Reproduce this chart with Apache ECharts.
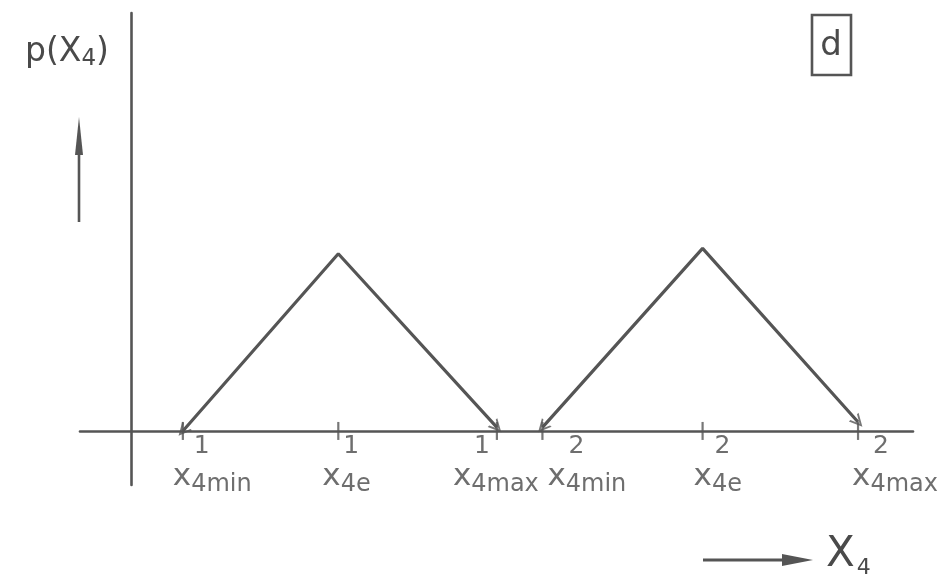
<!DOCTYPE html>
<html><head><meta charset="utf-8">
<script src="https://cdn.jsdelivr.net/npm/echarts@6/dist/echarts.min.js"></script>
<style>html,body{margin:0;padding:0;background:#fff}#c{width:945px;height:585px}</style>
</head><body><div id="c"></div>
<script>
// ---- data ----
const tickValues = [0.33, 1.32, 2.33, 2.62, 3.64, 4.63];
const tickBase = ['x', 'x', 'x', 'x', 'x', 'x'];
const tickSub = ['4min', '4e', '4max', '4min', '4e', '4max'];
const tickSup = ['1', '1', '1', '2', '2', '2'];
const triangle1 = [[0.33, 0], [1.32, 0.99], [2.33, 0.02]];
const triangle2 = [[2.62, 0.02], [3.64, 1.02], [4.63, 0.05]];
// small nudges of the hand-written tick labels
const labelShift = [-10, -16, -44, 5, -9, -6];

const INK = '#555';
const TXT = '#4a4a4a';
const FONT = 'DejaVu Sans';

const chart = echarts.init(document.getElementById('c'), null, {renderer: 'canvas'});

const axisCommon = {
  type: 'value',
  axisLine: {onZero: true, lineStyle: {color: INK, width: 2.6}},
  axisTick: {show: false},
  axisLabel: {show: false},
  splitLine: {show: false}
};

const option = {
  animation: false,
  backgroundColor: '#fff',
  grid: {left: 80, right: 32, top: 13, bottom: 100},
  xAxis: Object.assign({}, axisCommon, {min: -0.325, max: 4.98}),
  yAxis: Object.assign({}, axisCommon, {min: -0.302, max: 2.335}),
  series: [
    {type: 'line', data: triangle1, symbol: 'none', lineStyle: {color: INK, width: 3.2}},
    {type: 'line', data: triangle2, symbol: 'none', lineStyle: {color: INK, width: 3.2}},
    {
      type: 'scatter', symbol: 'rect', symbolSize: [2.2, 18],
      itemStyle: {color: INK},
      data: tickValues.map((v, i) => ({
        value: [v, 0],
        label: {offset: [labelShift[i], 46]}
      })),
      label: {
        show: true, position: 'inside', align: 'left', verticalAlign: 'middle',
        formatter: p => '{x|' + tickBase[p.dataIndex] + '}{s|' + tickSub[p.dataIndex] + '}',
        rich: {
          x: {fontSize: 31, color: TXT, fontFamily: FONT, lineHeight: 34},
          s: {fontSize: 24, color: TXT, fontFamily: FONT, padding: [15, 0, 0, 0]}
        }
      }
    },
    {
      type: 'scatter', symbolSize: 1, itemStyle: {color: 'rgba(0,0,0,0)'},
      data: tickValues.map((v, i) => ({
        value: [v, 0],
        label: {offset: [labelShift[i] + 21, 16]}
      })),
      label: {
        show: true, position: 'inside', align: 'left', verticalAlign: 'middle',
        formatter: p => tickSup[p.dataIndex],
        fontSize: 25, color: TXT, fontFamily: FONT
      }
    }
  ],
  graphic: [
    {type: 'text', left: 25, top: 36, style: {
      text: '{a|p(X}{s|4}{a|)}',
      rich: {
        a: {fontSize: 33, fill: TXT, fontFamily: FONT},
        s: {fontSize: 23, fill: TXT, fontFamily: FONT, padding: [14, 0, 0, 0]}
      }
    }},
    {type: 'line', shape: {x1: 79, y1: 222, x2: 79, y2: 140}, style: {stroke: INK, lineWidth: 2.6}},
    {type: 'polygon', shape: {points: [[75, 155], [79, 117], [83, 155]]}, style: {fill: INK}},
    {type: 'rect', shape: {x: 812, y: 15, width: 39, height: 60}, style: {fill: 'none', stroke: INK, lineWidth: 2.6}},
    {type: 'text', x: 831, y: 46, style: {text: 'd', fontSize: 34, fill: TXT, fontFamily: FONT, align: 'center', verticalAlign: 'middle'}},
    {type: 'line', shape: {x1: 703, y1: 560, x2: 790, y2: 560}, style: {stroke: INK, lineWidth: 2.8}},
    {type: 'polygon', shape: {points: [[782, 554], [813, 560], [782, 566]]}, style: {fill: INK}},
    {type: 'text', left: 826, top: 534, style: {
      text: '{a|X}{s|4}',
      rich: {
        a: {fontSize: 42, fill: TXT, fontFamily: FONT},
        s: {fontSize: 22, fill: TXT, fontFamily: FONT, padding: [26, 0, 0, 2]}
      }
    }}
  ]
};
chart.setOption(option);

// arrow heads at the foot of each triangle leg, oriented along the leg
const arrowPath = 'path://M0,10L5,0L10,10L8.4,10L5,3.2L1.6,10Z';
function headAt(from, to) {
  const a = chart.convertToPixel({gridIndex: 0}, from);
  const b = chart.convertToPixel({gridIndex: 0}, to);
  const ang = Math.atan2(-(b[1] - a[1]), b[0] - a[0]) * 180 / Math.PI;
  return {value: to, symbolRotate: ang - 90};
}
const heads = [
  headAt(triangle1[1], triangle1[0]), headAt(triangle1[1], triangle1[2]),
  headAt(triangle2[1], triangle2[0]), headAt(triangle2[1], triangle2[2])
];
chart.setOption({series: [{}, {}, {}, {}, {
  type: 'scatter', symbol: arrowPath, symbolSize: [13, 13],
  itemStyle: {color: INK}, data: heads
}]});
</script>
</body></html>
